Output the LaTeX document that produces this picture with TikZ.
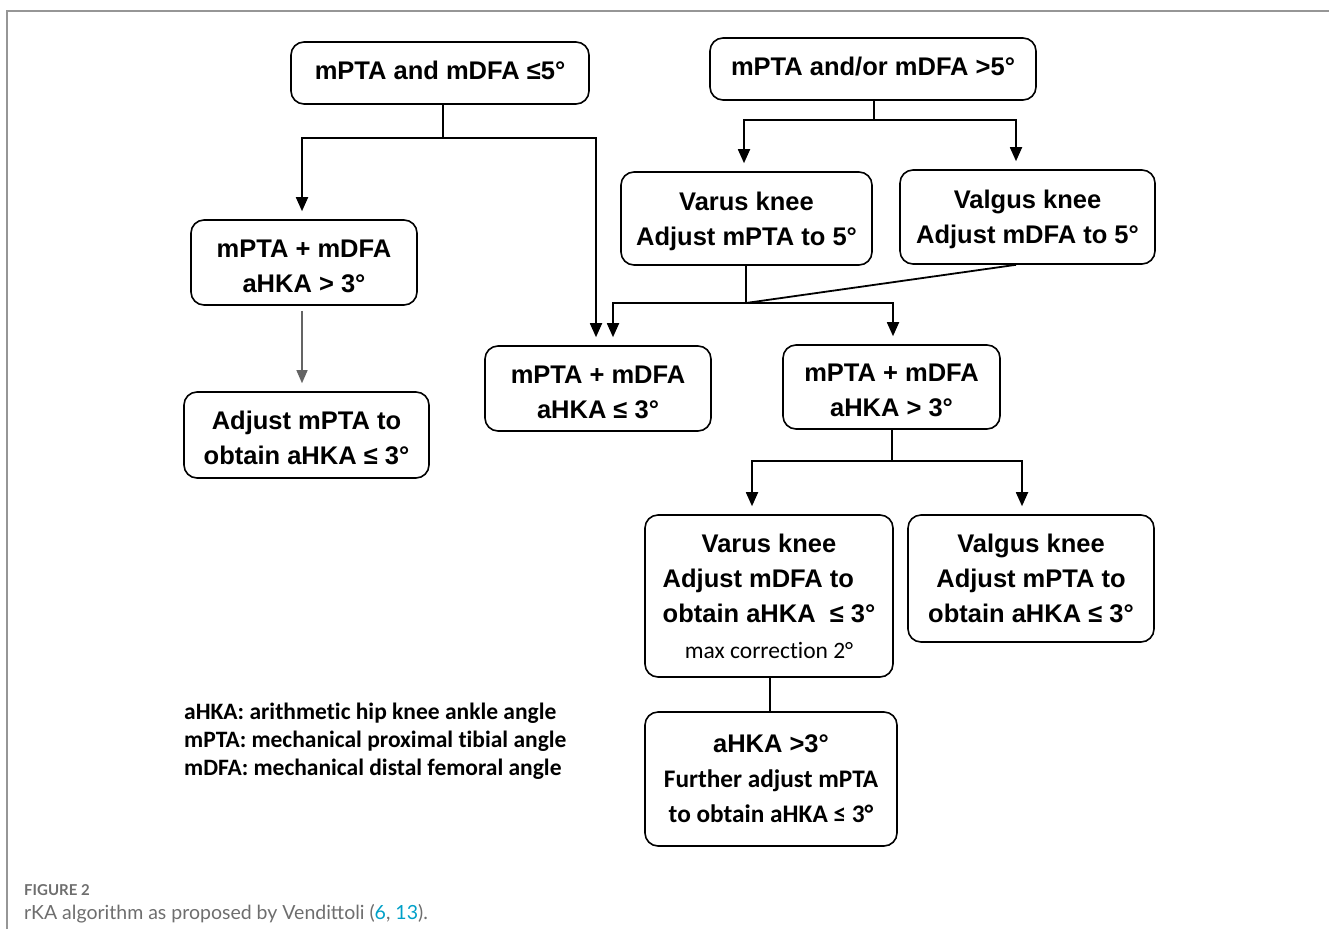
\documentclass[tikz,border=0pt]{standalone}
\usepackage{fontspec}
\setmainfont{Liberation Sans}
\newfontfamily\calib[Ligatures=NoCommon]{Carlito}
\newfontfamily\capfont{Lato}
\usetikzlibrary{arrows.meta,calc}
\definecolor{framegray}{RGB}{150,150,150}
\definecolor{capgray}{RGB}{110,110,110}
\definecolor{linkcyan}{RGB}{0,160,200}
\definecolor{arrgray}{RGB}{100,100,100}
\newlength{\obtw}
\newcommand{\topstrut}[1]{\rule{0pt}{#1}}
\begin{document}
\begingroup\bfseries\fontsize{25.5}{35}\selectfont\settowidth{\obtw}{obtain aHKA \ ≤ 3°}\global\obtw=\obtw\endgroup
\begin{tikzpicture}[x=1pt,y=-1pt,
  box/.style={draw, line width=1.6pt, rounded corners=13pt, align=center, inner sep=2pt,
    font=\bfseries\fontsize{25.5}{35}\selectfont},
  hightext/.style={text depth=5pt},
  midtext/.style={text depth=0pt},
  conn/.style={line width=1.8pt},
  arr/.style={line width=1.8pt, -{Triangle[length=14pt,width=12pt]}, shorten >=8pt},
  grayarr/.style={line width=1.3pt, draw=arrgray, -{Triangle[length=13pt,width=11pt]}, shorten >=8pt, shorten <=5pt},
  legend/.style={anchor=north west, align=left, inner sep=0pt, font=\calib\bfseries\fontsize{23.5}{28}\selectfont},
]
\useasboundingbox (0,0) rectangle (1329,929);
% frame
\draw[framegray, line width=2pt] (7,929) -- (7,11) -- (1329,11);

% boxes
\node[box, hightext, minimum width=298pt, minimum height=62pt] (b1) at (440,73) {mPTA and mDFA ≤5°};
\node[box, hightext, minimum width=326pt, minimum height=62pt] (b2) at (873,69) {mPTA and/or mDFA >5°};
\node[box, minimum width=226pt, minimum height=85pt] (b3) at (304,262.5) {\topstrut{26pt}mPTA + mDFA\\aHKA > 3°};
\node[box, minimum width=245pt, minimum height=86pt] (b4) at (306.5,435) {\topstrut{25pt}Adjust mPTA to\\obtain aHKA ≤ 3°};
\node[box, midtext, minimum width=251pt, minimum height=93pt] (b5) at (746.5,218.5) {Varus knee\\Adjust mPTA to 5°};
\node[box, midtext, minimum width=255pt, minimum height=94pt] (b6) at (1027.5,217) {Valgus knee\\Adjust mDFA to 5°};
\node[box, minimum width=226pt, minimum height=85pt] (b7) at (598,388.5) {\topstrut{26pt}mPTA + mDFA\\aHKA ≤ 3°};
\node[box, minimum width=217pt, minimum height=84pt] (b8) at (891.5,387) {\topstrut{24pt}mPTA + mDFA\\aHKA > 3°};
\node[box, minimum width=248pt, minimum height=162pt] (b9) at (769,596) {Varus knee\\\makebox[\obtw][l]{Adjust mDFA to}\\obtain aHKA \ ≤ 3°\\[1pt]{\calib\mdseries\fontsize{23.5}{26}\selectfont max correction 2°}};
\node[box, minimum width=246pt, minimum height=127pt] (b10) at (1031,578.5) {Valgus knee\\Adjust mPTA to\\obtain aHKA ≤ 3°};
\node[box, minimum width=252pt, minimum height=134pt] (b11) at (771,779) {aHKA >3°\\{\calib\bfseries\fontsize{25.3}{35}\selectfont Further adjust mPTA}\\{\calib\bfseries\fontsize{25.3}{35}\selectfont to obtain aHKA ≤ 3°}};

% junction coordinates
\coordinate (j1) at (443,138);
\coordinate (j1l) at (302,138);
\coordinate (j1r) at (596,138);
\coordinate (j2) at (874,120);
\coordinate (j2l) at (744,120);
\coordinate (j2r) at (1016,120);
\coordinate (j3) at (746,303);
\coordinate (j3l) at (613,303);
\coordinate (j3r) at (893,303);
\coordinate (j4) at (892,461);
\coordinate (j4l) at (752,461);
\coordinate (j4r) at (1022,461);

% connectors
\draw[conn] (j1 |- b1.south) -- (j1);
\draw[arr] (j1) -- (j1l) -- (j1l |- b3.north);
\draw[arr] (j1) -- (j1r) -- (j1r |- b7.north);

\draw[conn] (j2 |- b2.south) -- (j2);
\draw[arr] (j2) -- (j2l) -- (j2l |- b5.north);
\draw[arr] (j2) -- (j2r) -- (j2r |- b6.north);

\draw[conn] (j3 |- b5.south) -- (j3);
\draw[conn] (j2r |- b6.south) -- (j3);
\draw[arr] (j3) -- (j3l) -- (j3l |- b7.north);
\draw[arr] (j3) -- (j3r) -- (j3r |- b8.north);

\draw[grayarr] (b3.south -| j1l) -- (b4.north -| j1l);

\draw[conn] (j4 |- b8.south) -- (j4);
\draw[arr] (j4) -- (j4l) -- (j4l |- b9.north);
\draw[arr] (j4) -- (j4r) -- (j4r |- b10.north);

\draw[line width=1.4pt] (b9.south -| 770,0) -- (b11.north -| 770,0);

% legend
\node[legend] (leg) at (184,703) {aHKA: arithmetic hip knee ankle angle\\mPTA: mechanical proximal tibial angle\\mDFA: mechanical distal femoral angle};

% caption
\node[anchor=base west, inner sep=0pt, text=capgray, font=\capfont\bfseries\fontsize{15}{18}\selectfont] (fig) at (24,895) {FIGURE 2};
\node[anchor=base west, inner sep=0pt, text=capgray, font=\capfont\fontsize{19.5}{22}\selectfont] (cap) at (24,919) {rKA algorithm as proposed by Vendittoli (\textcolor{linkcyan}{6}, \textcolor{linkcyan}{13}).};
\end{tikzpicture}
\end{document}
